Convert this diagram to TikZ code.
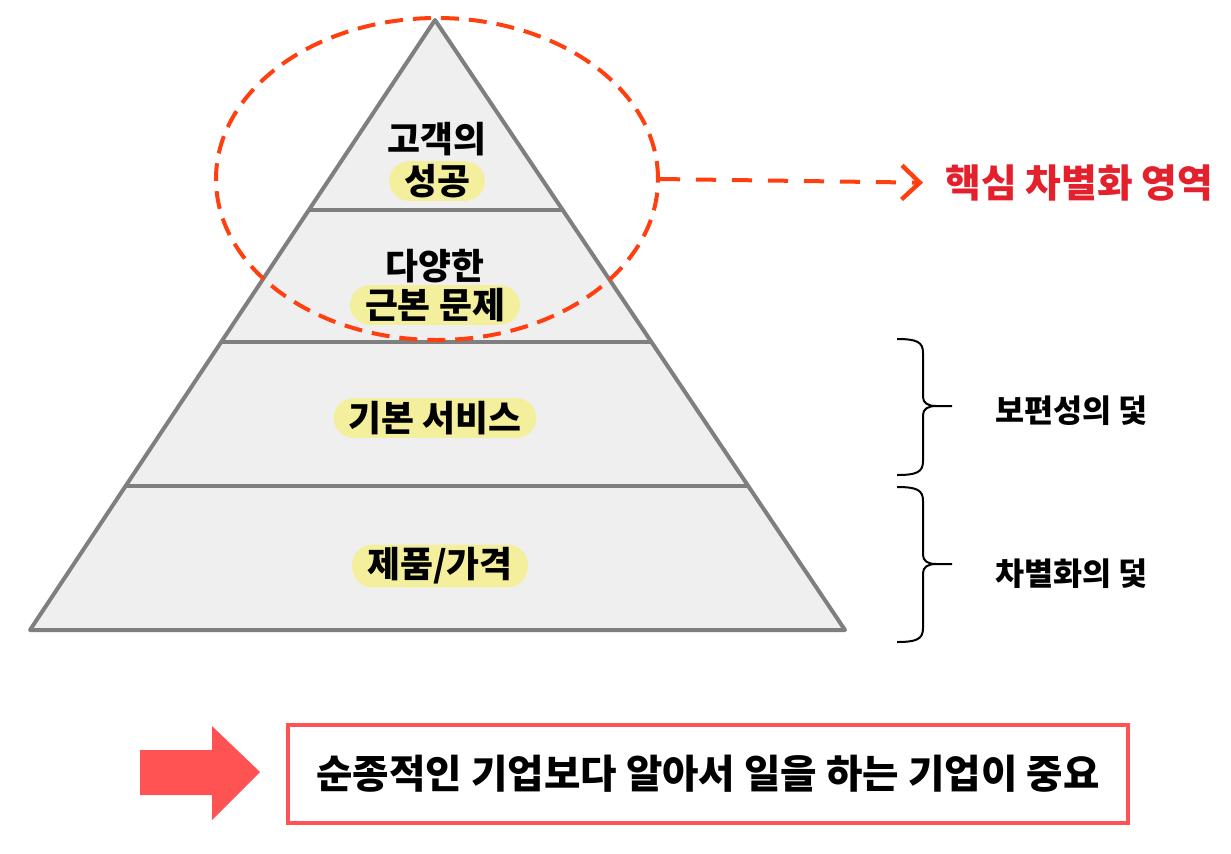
\documentclass[tikz,border=0pt]{standalone}
\usepackage{fontspec}
\setmainfont{Noto Sans CJK KR}
\usepackage{tikz}
\usetikzlibrary{positioning, calc, arrows.meta, shapes.geometric}
\definecolor{tiergray}{HTML}{EFEFEF}
\definecolor{edgegray}{HTML}{7F7F7F}
\definecolor{marker}{HTML}{F3EF9C}
\definecolor{dashorange}{HTML}{FF3F0F}
\definecolor{keyred}{HTML}{E3202C}
\definecolor{boxred}{HTML}{FF5252}

\begin{document}
\begin{tikzpicture}[x=0.5pt, y=-0.5pt,
    tier/.style={draw=edgegray, line width=2pt},
    hilite/.style={fill=marker, rounded corners=10pt, inner xsep=7.5pt, inner ysep=1.5pt, font=\fontsize{17.9}{20}\selectfont\bfseries},
    plainlbl/.style={inner sep=0pt, font=\fontsize{17.9}{20}\selectfont\bfseries},
    traplbl/.style={inner sep=0pt, font=\fontsize{15.8}{18}\selectfont\bfseries},
    trapbrace/.style={line width=1pt}]
  \useasboundingbox (0,0) rectangle (1231,853);

  % pyramid
  \coordinate (apex) at (435,20);
  \coordinate (bl) at (30,630);
  \coordinate (br) at (845,630);
  \draw[tier, fill=tiergray, line join=round] (apex) -- (br) -- (bl) -- cycle;
  \foreach \t in {0.3115, 0.528, 0.764}
    \draw[tier] ($(apex)!\t!(bl)$) -- ($(apex)!\t!(br)$);

  \node[hilite] (success) at (437,181) {성공};
  \node[plainlbl, above=2pt of success] (customer) {고객의};
  \node[hilite] (roots) at (435,305) {근본 문제};
  \node[plainlbl, above=0.5pt of roots] (various) {다양한};
  \node[hilite] (basic) at (435,418) {기본 서비스};
  \node[hilite] (product) at (440,566) {제품/가격};

  % core area
  \node[ellipse, draw=dashorange, line width=2pt, dash pattern=on 9pt off 5pt,
        minimum width=221pt, minimum height=161pt, inner sep=0pt] (core) at (437,179) {};
  \node[anchor=west, inner sep=0pt, text=keyred, font=\fontsize{19.4}{22}\selectfont\bfseries]
        (keytext) at (945,183) {핵심 차별화 영역};
  \draw[dashorange, line width=2pt, dash pattern=on 10pt off 8pt, shorten >=11pt,
        -{Straight Barb[length=9pt, width=17pt, line width=2.2pt]}] (core.east) -- (keytext.west);

  % traps
  \foreach \top/\bot/\tip in {339/475/406, 487/642/564}
    \draw[trapbrace] (897,\top) .. controls (917,\top) and (923,\top+3) .. (923,\top+14)
      -- (923,\tip-9) .. controls (923,\tip-3) and (928,\tip) .. (936,\tip) -- (952,\tip)
      (936,\tip) .. controls (928,\tip) and (923,\tip+3) .. (923,\tip+9)
      -- (923,\bot-14) .. controls (923,\bot-3) and (917,\bot) .. (897,\bot);
  \node[traplbl, anchor=west] (common) at (995,411) {보편성의 덫};
  \node[traplbl, anchor=west] (distinct) at (995,574) {차별화의 덫};

  % conclusion
  \fill[boxred] (140,750) -- (212,750) -- (212,726) -- (260,772) -- (212,820) -- (212,795) -- (140,795) -- cycle;
  \node[draw=boxred, line width=2pt, minimum width=420pt, minimum height=49pt,
        font=\fontsize{19.8}{22}\selectfont\bfseries] (lesson) at (708,774)
        {순종적인 기업보다 알아서 일을 하는 기업이 중요};
\end{tikzpicture}
\end{document}
